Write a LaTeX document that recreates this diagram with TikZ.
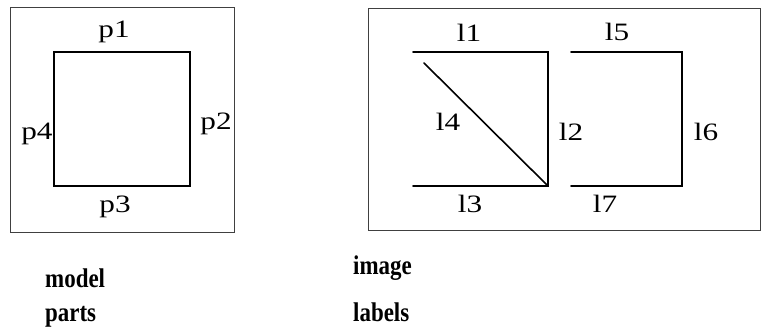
\documentclass[tikz,border=0pt]{standalone}
\usepackage{fontspec}
\setmainfont{Liberation Serif}
\usetikzlibrary{positioning}
\definecolor{frameGrey}{HTML}{404040}
\tikzset{
  part line/.style={line width=1.6pt, line cap=round},
  frame box/.style={draw=frameGrey, line width=0.8pt},
  part label/.style={font=\fontsize{25}{27}\selectfont, anchor=base, inner sep=0pt,
    xscale=1.25, transform shape},
  caption text/.style={font=\fontsize{27}{29}\selectfont\bfseries, anchor=base west,
    inner sep=0pt, xscale=0.85, transform shape},
}

\begin{document}
\begin{tikzpicture}[x=1pt, y=-1pt]
\useasboundingbox (0,0) rectangle (761,328);

%% Model parts (left panel) ==========================================
\draw[frame box] (10,7) rectangle (234,232);
\draw[part line] (54,52) rectangle (190,186);

\node[part label] (p1) at (114,38) {p1};
\node[part label] (p2) at (216,130) {p2};
\node[part label] (p3) at (115,213) {p3};
\node[part label] (p4) at (37,140) {p4};

%% Image labels (right panel) ========================================
\draw[frame box] (368,8) rectangle (760,230);

% first piece: open square with diagonal
\draw[part line] (413,52) -- (548,52) -- (548,186) -- (413,186);
\draw[part line] (424,63) -- (548,186);
% second piece: bracket shape
\draw[part line] (571,52) -- (682,52) -- (682,186) -- (571,186);

\node[part label] (l1) at (469,42) {l1};
\node[part label] (l2) at (571,141) {l2};
\node[part label] (l3) at (470,213) {l3};
\node[part label] (l4) at (448,131) {l4};
\node[part label] (l5) at (617,41) {l5};
\node[part label] (l6) at (706,141) {l6};
\node[part label] (l7) at (605,213) {l7};

%% Captions ==========================================================
\node[caption text] (model) at (45,288) {model};
\node[caption text] (parts) at (45,322) {parts};
\node[caption text] (image) at (353,275) {image};
\node[caption text] (labels) at (353,322) {labels};

\end{tikzpicture}
\end{document}
